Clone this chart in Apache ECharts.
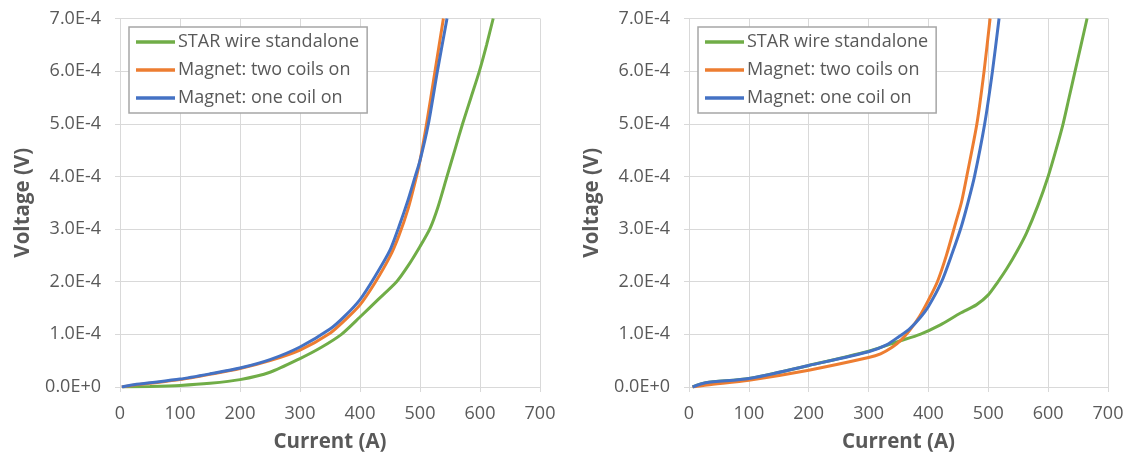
<!DOCTYPE html>
<html>
<head>
<meta charset="utf-8">
<script src="https://cdn.jsdelivr.net/npm/echarts@6/dist/echarts.min.js"></script>
<style>
html,body{margin:0;padding:0;background:#fff;}
#c{width:1127px;height:455px;}
</style>
</head>
<body>
<div id="c"></div>
<script>
// Series names
const seriesNames = ['STAR wire standalone', 'Magnet: two coils on', 'Magnet: one coil on'];

// Left panel: [current (A), voltage (V)]
const leftStar = [[5,0],[50,0.01e-4],[100,0.03e-4],[150,0.07e-4],[200,0.14e-4],[250,0.28e-4],[300,0.54e-4],[335,0.75e-4],[369,1.0e-4],[400,1.33e-4],[430,1.66e-4],[461,2.0e-4],[480,2.3e-4],[500,2.67e-4],[517,3.02e-4],[530,3.42e-4],[545,4.0e-4],[558,4.5e-4],[571,5.0e-4],[585,5.5e-4],[599,6.0e-4],[611,6.5e-4],[622,7.0e-4]];
const leftTwo = [[3,0],[20,0.03e-4],[50,0.07e-4],[100,0.14e-4],[150,0.24e-4],[200,0.35e-4],[250,0.5e-4],[300,0.7e-4],[350,1.02e-4],[375,1.27e-4],[400,1.56e-4],[425,1.98e-4],[450,2.48e-4],[465,2.88e-4],[480,3.38e-4],[492,3.9e-4],[500,4.3e-4],[511,5.0e-4],[525,6.0e-4],[539,7.0e-4]];
const leftOne = [[3,0],[20,0.04e-4],[50,0.08e-4],[100,0.15e-4],[150,0.25e-4],[200,0.36e-4],[250,0.52e-4],[300,0.76e-4],[350,1.1e-4],[375,1.35e-4],[400,1.66e-4],[425,2.1e-4],[450,2.6e-4],[465,3.05e-4],[480,3.55e-4],[492,4.0e-4],[500,4.3e-4],[514,5.0e-4],[529,6.0e-4],[545,7.0e-4]];

// Right panel: [current (A), voltage (V)]
const rightStar = [[6,0],[28,0.08e-4],[100,0.16e-4],[200,0.41e-4],[300,0.68e-4],[351,0.87e-4],[386,1.0e-4],[420,1.18e-4],[453,1.4e-4],[480,1.56e-4],[500,1.75e-4],[515,1.98e-4],[531,2.25e-4],[548,2.58e-4],[564,2.93e-4],[583,3.45e-4],[600,4.0e-4],[613,4.5e-4],[625,5.0e-4],[635,5.5e-4],[645,6.0e-4],[655,6.5e-4],[665,7.0e-4]];
const rightTwo = [[6,0],[30,0.04e-4],[100,0.13e-4],[200,0.32e-4],[300,0.56e-4],[320,0.63e-4],[340,0.76e-4],[355,0.9e-4],[369,1.08e-4],[385,1.34e-4],[400,1.65e-4],[415,2.0e-4],[430,2.5e-4],[445,3.1e-4],[455,3.5e-4],[464,4.0e-4],[481,5.0e-4],[493,6.0e-4],[503,7.0e-4]];
const rightOne = [[6,0],[28,0.08e-4],[100,0.16e-4],[200,0.41e-4],[300,0.67e-4],[330,0.8e-4],[351,0.96e-4],[369,1.11e-4],[385,1.3e-4],[400,1.53e-4],[422,2.0e-4],[440,2.55e-4],[455,3.05e-4],[466,3.5e-4],[477,4.0e-4],[494,5.0e-4],[507,6.0e-4],[518,7.0e-4]];

const xMin = 0, xMax = 700, xStep = 100;
const yMin = 0, yMax = 7e-4, yStep = 1e-4;

const colors = ['#70AD47', '#ED7D31', '#4472C4'];
const textColor = '#595959';
const gridColor = '#d9d9d9';
const font = 'Open Sans';

function xAxisCfg(gi) {
  return {
    type: 'value', gridIndex: gi, min: xMin, max: xMax, interval: xStep,
    name: 'Current (A)', nameLocation: 'middle', nameGap: 45,
    nameTextStyle: {color: textColor, fontSize: 20.5, fontWeight: 'bold', fontFamily: font},
    axisLine: {show: true, lineStyle: {color: gridColor, width: 1}},
    axisTick: {show: true, inside: false, length: 5, lineStyle: {color: gridColor}},
    axisLabel: {color: textColor, fontSize: 18, fontFamily: font, margin: 18},
    splitLine: {show: true, lineStyle: {color: gridColor, width: 1}}
  };
}
function yAxisCfg(gi) {
  return {
    type: 'value', gridIndex: gi, min: yMin, max: yMax, interval: yStep,
    name: 'Voltage (V)', nameLocation: 'middle', nameGap: 86,
    nameTextStyle: {color: textColor, fontSize: 20.5, fontWeight: 'bold', fontFamily: font},
    axisLine: {show: true, lineStyle: {color: gridColor, width: 1}},
    axisTick: {show: true, inside: false, length: 5, lineStyle: {color: gridColor}},
    axisLabel: {color: textColor, fontSize: 18, fontFamily: font, margin: 19,
      formatter: v => Number(v).toExponential(1).replace('e', 'E')},
    splitLine: {show: true, lineStyle: {color: gridColor, width: 1}}
  };
}
function legendCfg(left) {
  return {
    orient: 'vertical', left: left, top: 27,
    data: seriesNames,
    icon: 'rect',
    itemWidth: 39, itemHeight: 3.5, itemGap: 10,
    padding: [6, 8, 6, 7],
    borderColor: '#a6a6a6', borderWidth: 1.5, backgroundColor: '#fff',
    textStyle: {color: textColor, fontSize: 18, fontFamily: font, padding: [0, 0, 0, -2]}
  };
}
function lineSeries(name, data, idx, gi) {
  return {
    type: 'line', name: name, data: data, xAxisIndex: gi, yAxisIndex: gi,
    showSymbol: false, symbol: 'none', smooth: 0.25,
    lineStyle: {color: colors[idx], width: 3},
    itemStyle: {color: colors[idx]},
    clip: true, animation: false
  };
}

const chart = echarts.init(document.getElementById('c'), null, {renderer: 'canvas'});
chart.setOption({
  backgroundColor: '#ffffff',
  animation: false,
  grid: [
    {left: 120, top: 18.5, width: 420, height: 368.5, containLabel: false, outerBoundsMode: 'none'},
    {left: 689, top: 18.5, width: 419, height: 368.5, containLabel: false, outerBoundsMode: 'none'}
  ],
  xAxis: [xAxisCfg(0), xAxisCfg(1)],
  yAxis: [yAxisCfg(0), yAxisCfg(1)],
  legend: [legendCfg(129), legendCfg(698)],
  series: [
    lineSeries(seriesNames[0], leftStar, 0, 0),
    lineSeries(seriesNames[1], leftTwo, 1, 0),
    lineSeries(seriesNames[2], leftOne, 2, 0),
    lineSeries(seriesNames[0], rightStar, 0, 1),
    lineSeries(seriesNames[1], rightTwo, 1, 1),
    lineSeries(seriesNames[2], rightOne, 2, 1)
  ]
});
</script>
</body>
</html>
